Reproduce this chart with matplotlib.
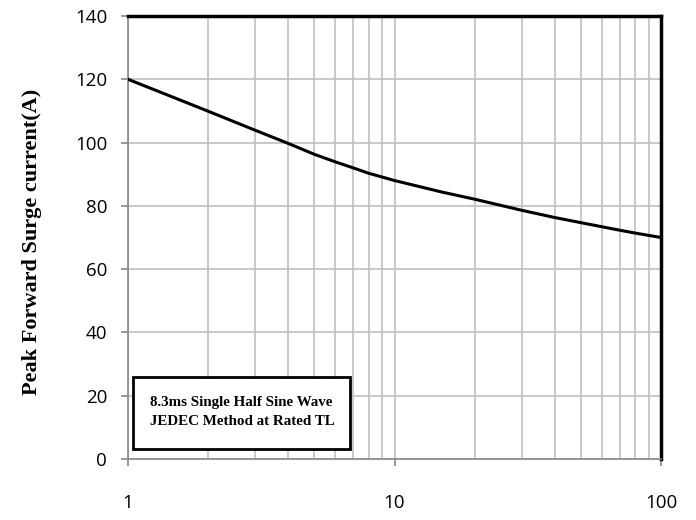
import matplotlib.pyplot as plt
import numpy as np
from matplotlib.patches import Rectangle
from matplotlib.ticker import LogLocator, FixedLocator, NullFormatter

# pulse width (cycles) and peak surge current
cycles = [1, 1.5, 2, 3, 4, 5, 6, 7, 8, 9, 10, 15, 20, 30, 40, 50, 60, 70, 80, 100]
current = [120, 114.1, 109.9, 103.9, 99.7, 96.3, 93.9, 92.0, 90.3, 89.1, 88.0,
           84.4, 82.1, 78.6, 76.3, 74.7, 73.4, 72.3, 71.4, 70]

yticks = [0, 20, 40, 60, 80, 100, 120, 140]
xticks = [1, 10, 100]
ylabel = "Peak Forward Surge current(A)"
note = "8.3ms Single Half Sine Wave\nJEDEC Method at Rated TL"

grid_c = "#c0c0c0"
axis_c = "#888888"

fig = plt.figure(figsize=(6.96, 5.2), dpi=100)
ax = fig.add_axes([128/696, 1 - 459/520, (661-128)/696, (459-16)/520])

ax.set_xscale("log")
ax.set_xlim(1, 100)
ax.set_ylim(0, 140)

ax.plot(cycles, current, "-", color="black", lw=2.2, zorder=3)

ax.xaxis.set_major_locator(FixedLocator(xticks))
ax.xaxis.set_minor_locator(LogLocator(base=10, subs=np.arange(2, 10)))
ax.xaxis.set_minor_formatter(NullFormatter())
ax.set_xticks(xticks)
ax.set_xticklabels([str(v) for v in xticks])
ax.set_yticks(yticks)
ax.set_yticklabels([str(v) for v in yticks])

ax.grid(True, which="both", axis="x", color=grid_c, lw=1.2)
ax.grid(True, which="major", axis="y", color=grid_c, lw=1.2)
ax.set_axisbelow(True)

for s in ["top", "right"]:
    ax.spines[s].set_color("black")
    ax.spines[s].set_linewidth(2.5)
for s in ["left", "bottom"]:
    ax.spines[s].set_color(axis_c)
    ax.spines[s].set_linewidth(1.2)

ax.tick_params(axis="both", which="major", length=5, width=1.2, color=axis_c,
               labelsize=13.5, labelcolor="black")
ax.tick_params(axis="x", which="major", pad=20)
ax.tick_params(axis="y", which="major", pad=10)
ax.tick_params(axis="x", which="minor", length=0)
for lbl in ax.get_xticklabels() + ax.get_yticklabels():
    lbl.set_family("Open Sans")

fig.text(32/696, 1 - 242/520, ylabel, family="Liberation Serif", fontweight="bold",
         fontsize=16, rotation=90, ha="center", va="center")

# note box
ax.add_patch(Rectangle((5/533, 10/443), 217/533, 72/443, transform=ax.transAxes,
                       fc="white", ec="black", lw=2, zorder=5))
ax.text(22/533, 47/443, note, transform=ax.transAxes, family="Liberation Serif",
        fontweight="bold", fontsize=10.8, va="center", ha="left", linespacing=1.55,
        zorder=6)

plt.savefig("out.png", dpi=100)
